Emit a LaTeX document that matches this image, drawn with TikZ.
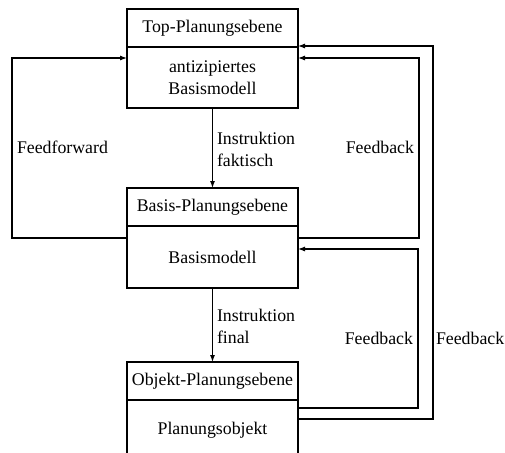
\documentclass[tikz,border=0pt]{standalone}
\usepackage{fontspec}
\setmainfont{Liberation Serif}
\usetikzlibrary{arrows.meta}
\begin{document}
\begin{tikzpicture}[x=1pt,y=-1pt,
  every node/.style={font=\fontsize{17.8}{22}\selectfont, inner sep=0pt, outer sep=0pt},
  box/.style={draw, line width=1.1pt, minimum width=171pt, align=center},
  hdr/.style={box, minimum height=38pt},
  lbl/.style={align=left},
  wire/.style={line width=1.1pt},
  arr/.style={wire, -{Latex[length=7pt,width=5pt]}}]
\useasboundingbox (0,0) rectangle (505,452);
\clip (0,0) rectangle (505,452);

% planning levels: header and content part
\node[hdr] (toph) at (212.5,28) {Top-Planungsebene};
\node[box, minimum height=61pt, anchor=north] (topb) at (toph.south) {antizipiertes\\Basismodell};

\node[hdr] (midh) at (212.5,207) {Basis-Planungsebene};
\node[box, minimum height=62pt, anchor=north] (midb) at (midh.south) {Basismodell};

\node[hdr] (objh) at (212.5,381) {Objekt-Planungsebene};
\node[box, minimum height=60pt, anchor=north] (objb) at (objh.south) {Planungsobjekt};

% instructions downwards
\draw[arr] (topb.south) -- (midh.north);
\draw[arr] (midb.south) -- (objh.north);

% feedforward on the left
\draw[arr] ([yshift=-12pt]midb.north west) -- ++(-115,0) |- ([yshift=-11pt]topb.north west);

% feedback loops on the right
\draw[arr] ([yshift=-12pt]midb.north east) -- ++(121,0) |- ([yshift=-11pt]topb.north east);
\draw[arr] ([yshift=-8pt]objb.north east) -- ++(120,0) |- ([yshift=-23pt]midb.north east);
\draw[arr] ([yshift=-19pt]objb.north east) -- ++(135,0) |- ([yshift=1pt]toph.south east);

% labels
\node[lbl, anchor=west] (instr1) at (217,149) {Instruktion\\faktisch};
\node[lbl, anchor=west] (instr2) at (217,326.5) {Instruktion\\final};
\node[anchor=west] (ffw) at (17,147) {Feedforward};
\node[anchor=east] (fb1) at (414,147) {Feedback};
\node[anchor=east] (fb2) at (413,338) {Feedback};
\node[anchor=west] (fb3) at (436,338) {Feedback};
\end{tikzpicture}
\end{document}
